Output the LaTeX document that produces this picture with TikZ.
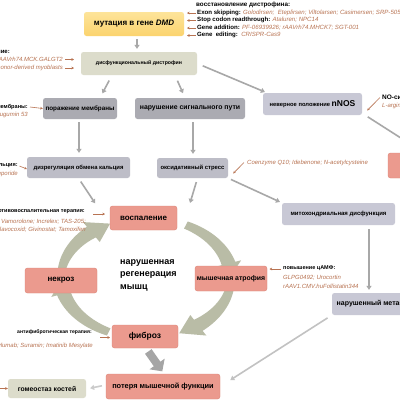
\documentclass[tikz,border=0pt]{standalone}
\usepackage{fontspec}
\setmainfont{Liberation Sans}
\usetikzlibrary{arrows.meta}
\definecolor{brn}{HTML}{B87352}
\definecolor{cycc}{HTML}{B9BCA6}
\definecolor{gline}{HTML}{A8A8A8}
\definecolor{gblock}{HTML}{A5A5A5}
\definecolor{yel}{HTML}{FBD36E}
\definecolor{yeltop}{HTML}{FDE49A}
\definecolor{beige}{HTML}{DCDCCB}
\definecolor{gdark}{HTML}{ABABB2}
\definecolor{gmid}{HTML}{BDBDC7}
\definecolor{glav}{HTML}{C8C8D5}
\definecolor{redb}{HTML}{EB9A8E}
\definecolor{redd}{HTML}{DC8578}
\newcommand\myfs[2]{\fontsize{#1}{#2}\selectfont}
\newcommand\cycarrow[6]{%
  \fill[cycc] plot[domain=#1:#2, variable=\t, samples=30]
    ({146+(85+0.5*(#4+(#5-#4)*(\t-#1)/(#2-#1)))*cos(\t)},{278-(60+0.5*(#4+(#5-#4)*(\t-#1)/(#2-#1)))*sin(\t)})
    -- ({146+(85+#6)*cos(#2)},{278-(60+#6)*sin(#2)})
    -- ({146+85*cos(#3)},{278-60*sin(#3)})
    -- ({146+(85-#6)*cos(#2)},{278-(60-#6)*sin(#2)})
    -- plot[domain=#2:#1, variable=\t, samples=30]
    ({146+(85-0.5*(#4+(#5-#4)*(\t-#1)/(#2-#1)))*cos(\t)},{278-(60-0.5*(#4+(#5-#4)*(\t-#1)/(#2-#1)))*sin(\t)})
    -- cycle;}
\begin{document}
\begin{tikzpicture}[x=1pt,y=-1pt,
  box/.style={rounded corners=2.5pt, inner sep=0pt, align=center},
  redbox/.style={box, fill=redb, draw=redd, line width=0.4pt},
  graybox/.style={box, fill=#1},
  conn/.style={draw=gline, line width=1.6pt, -{Triangle[length=4pt,width=5pt]}},
  ann/.style={draw=brn, line width=0.6pt, -{Stealth[length=2.6pt,width=2.6pt]}},
  hd/.style={inner sep=0pt, font=\bfseries\myfs{5.5}{6}},
  dr/.style={inner sep=0pt, text=brn, font=\itshape\myfs{6}{6.5}},
  line/.style={inner sep=0pt, font=\myfs{6.1}{7}},
]
\useasboundingbox (0,0) rectangle (400,400);
\fill[white] (0,0) rectangle (400,400);
\clip (0,0) rectangle (400,400);

% cycle arrows (behind boxes)
\cycarrow{172}{130}{115}{8}{14}{13}
\cycarrow{62}{14}{2}{8}{14}{13}
\cycarrow{-8}{-52}{-67}{8}{14}{13}
\cycarrow{-116}{-165}{-178}{8}{14}{13}

% boxes
\node[box, top color=yeltop, bottom color=yel, minimum width=100, minimum height=24, font=\bfseries\myfs{8}{9}] (mut) at (134,24) {мутация в гене \textit{DMD}};
\node[graybox=beige, minimum width=116, minimum height=23, font=\bfseries\myfs{5.2}{6}] (dys) at (139,63.5) {дисфункциональный дистрофин};
\node[graybox=gdark, minimum width=74, minimum height=21, font=\bfseries\myfs{6.3}{7}] (mem) at (80,108.5) {поражение мембраны};
\node[graybox=gdark, minimum width=110, minimum height=21, font=\bfseries\myfs{6.9}{8}] (sig) at (190,108.5) {нарушение сигнального пути};
\node[graybox=glav, minimum width=99, minimum height=22] (nnos) at (312.5,104) {\bfseries\myfs{5.8}{7}неверное положение \myfs{8.5}{9}nNOS};
\node[redbox, minimum width=72, minimum height=25] (isch) at (424,165.5) {};
\node[graybox=gmid, minimum width=103, minimum height=21, font=\bfseries\myfs{5.9}{7}] (ca) at (78.5,167.5) {дизрегуляция обмена кальция};
\node[graybox=gmid, minimum width=71, minimum height=20, font=\bfseries\myfs{5.9}{7}] (ox) at (192.5,168) {оксидативный стресс};
\node[graybox=glav, minimum width=113, minimum height=22, font=\bfseries\myfs{6}{7}] (mito) at (338.5,214) {митохондриальная дисфункция};
\node[redbox, minimum width=67, minimum height=24, font=\bfseries\myfs{8}{9}] (infl) at (143.5,218) {воспаление};
\node[redbox, minimum width=72, minimum height=25, font=\bfseries\myfs{8}{9}] (necr) at (61,280.5) {некроз};
\node[redbox, minimum width=72, minimum height=25, font=\bfseries\myfs{6.9}{8}] (atro) at (231,278.5) {мышечная атрофия};
\node[redbox, minimum width=66, minimum height=23, font=\bfseries\myfs{8.5}{9}] (fib) at (145,336.5) {фиброз};
\node[graybox=glav, minimum width=98, minimum height=22, font=\bfseries\myfs{7}{8}] (meta) at (381,304) {нарушенный метаболизм};
\node[redbox, minimum width=114, minimum height=25, font=\bfseries\myfs{7.4}{8}] (loss) at (163,386.5) {потеря мышечной функции};
\node[graybox=beige, minimum width=78, minimum height=19, font=\bfseries\myfs{6.8}{8}] (bone) at (47,388.5) {гомеостаз костей};

% center text
\node[inner sep=0pt, anchor=north west, align=left, font=\bfseries\myfs{9}{12.5}] (regen) at (120,259) {нарушенная\\регенерация\\мышц};

% gray connectors
\draw[conn, shorten <=3pt, shorten >=3pt] ([xshift=3pt]mut.south) -- ([xshift=-2pt]dys.north);
\draw[conn, shorten <=6pt, shorten >=5pt] ([xshift=-27pt]dys.south) -- ([xshift=20pt]mem.north);
\draw[conn, shorten <=6pt, shorten >=5pt] ([xshift=36pt]dys.south) -- ([xshift=-5pt]sig.north);
\draw[conn, shorten <=6pt, shorten >=2pt] (dys.east) -- ([xshift=4pt]nnos.north west);
\draw[conn, shorten <=3pt, shorten >=4pt] ([xshift=-1pt]mem.south) -- ([xshift=0.5pt]ca.north);
\draw[conn, shorten <=3pt, shorten >=4pt] ([xshift=3pt]sig.south) -- ([xshift=0.5pt]ox.north);
\draw[conn, shorten <=3pt, shorten >=2pt] ([xshift=3pt]nnos.south east) -- (isch.north);
\draw[conn, shorten <=4pt, shorten >=3pt] (ca.south) -- ([xshift=-13pt]infl.north west);
\draw[conn, shorten <=4pt, shorten >=3pt] ([xshift=5pt]ox.south) -- ([xshift=12pt]infl.north east);
\draw[conn, shorten <=3pt, shorten >=2pt] (ox.south east) -- (mito.north west);
\draw[conn, shorten <=4pt, shorten >=3pt] ([xshift=30.5pt]mito.south) -- ([xshift=-12pt]meta.north);
\draw[conn, draw=gline!70, shorten <=5pt, shorten >=12pt] (meta.south west) -- (loss.east);
\draw[conn, draw=gline!60, shorten <=4pt, shorten >=4pt] ([yshift=1.5pt]loss.west) -- ([yshift=-0.5pt]bone.east);
\draw[draw=gblock, line width=8pt, -{Triangle[length=9pt,width=18pt]}, shorten <=4pt, shorten >=3pt] ([xshift=1pt]fib.south) -- ([xshift=1pt]loss.north);

% top right annotations
\node[inner sep=0pt, anchor=west, font=\bfseries\myfs{6.3}{7}] (rt1) at (196,5) {восстановление дистрофина:};
\node[line, anchor=west] (rt2) at (197,12.5) {\textbf{Exon skipping:} \textcolor{brn}{\textit{Golodirsen;\ \ Eteplirsen; Viltolarsen; Casimersen; SRP-5051}}};
\node[line, anchor=west] (rt3) at (197,20) {\textbf{Stop codon readthrough:} \textcolor{brn}{\textit{Ataluren; NPC14}}};
\node[line, anchor=west] (rt4) at (197,27.5) {\textbf{Gene addition:} \textcolor{brn}{\textit{PF-06939926; rAAVrh74.MHCK7; SGT-001}}};
\node[line, anchor=west] (rt5) at (197,35) {\textbf{Gene\ \ editing:}\ \ \textcolor{brn}{\textit{CRISPR-Cas9}}};
\foreach \yy in {13,20.5,28,35.5} \draw[ann] (195.5,\yy) -- (187,\yy);

% left of dystrophin
\node[hd, anchor=east, font=\bfseries\myfs{6}{7}] (lt1) at (10,52) {Замещение:};
\node[dr, anchor=east] (lt2) at (63,59.5) {rAAVrh74.MCK.GALGT2};
\node[dr, anchor=east] (lt3) at (63,68) {Donor-derived myoblasts};
\draw[ann] (lt2.east) ++(2,0) -- ++(9,0);
\draw[ann] (lt3.east) ++(2,0) -- ++(9,0);

% membrane
\node[hd, anchor=east, font=\bfseries\myfs{5.6}{7}] (mb1) at (28,107) {стабилизация мембраны:};
\node[dr, anchor=east] (mb2) at (28,114.5) {Mitsugumin 53};
\draw[ann] (mb1.east) ++(2,0) -- (mem.west);

% calcium
\node[hd, anchor=east, font=\bfseries\myfs{5.6}{7}] (cl1) at (18,166) {регуляция кальция:};
\node[dr, anchor=east] (cl2) at (18,174) {Rimeporide};
\draw[ann] (cl1.east) ++(1.5,0) -- ([yshift=-1.5pt]ca.west);

% nNOS
\node[hd, anchor=west, font=\bfseries\myfs{6.5}{7}] (no1) at (382,97.5) {NO-сигнализация:};
\node[dr, anchor=west] (no2) at (382,105.5) {L-arginine};
\draw[ann] (no1.west) ++(-2,0) -- ([xshift=5pt,yshift=-6.5pt]nnos.east);

% oxidative
\node[dr, anchor=west] (oxd) at (247,162.5) {Coenzyme Q10; Idebenone; N-acetylcysteine};
\draw[ann] (oxd.west) ++(-3,0) -- ([xshift=5pt,yshift=-5.5pt]ox.east);

% inflammation
\node[hd, anchor=east] (in1) at (85,212) {противовоспалительная терапия:};
\node[dr, anchor=east] (in2) at (86,222) {Vamorolone; Increlex; TAS-205;};
\node[dr, anchor=east] (in3) at (86,229.5) {Flavocoxid; Givinostat; Tamoxifen};
\draw[ann] (93,214) -- (105,214);

% atrophy
\node[hd, anchor=west] (at1) at (283,268.5) {повышение цАМФ:};
\node[dr, anchor=west] (at2) at (283,277.5) {GLPG0492; Urocortin};
\node[dr, anchor=west] (at3) at (283,286) {rAAV1.CMV.huFollistatin344};
\draw[ann] (at1.west) ++(-2,0.5) -- ++(-11.5,0);

% fibrosis
\node[hd, anchor=east, font=\bfseries\myfs{5.1}{6}] (fb1) at (92,332) {антифибротическая терапия:};
\node[dr, anchor=east] (fb2) at (93,346) {Pamrevlumab; Suramin; Imatinib Mesylate};
\draw[ann] (100,337.5) -- (110,337.5);

% bone
\coordinate (bl) at (-2,388.5);
\draw[ann] (bl) -- (bone.west);
\end{tikzpicture}
\end{document}
